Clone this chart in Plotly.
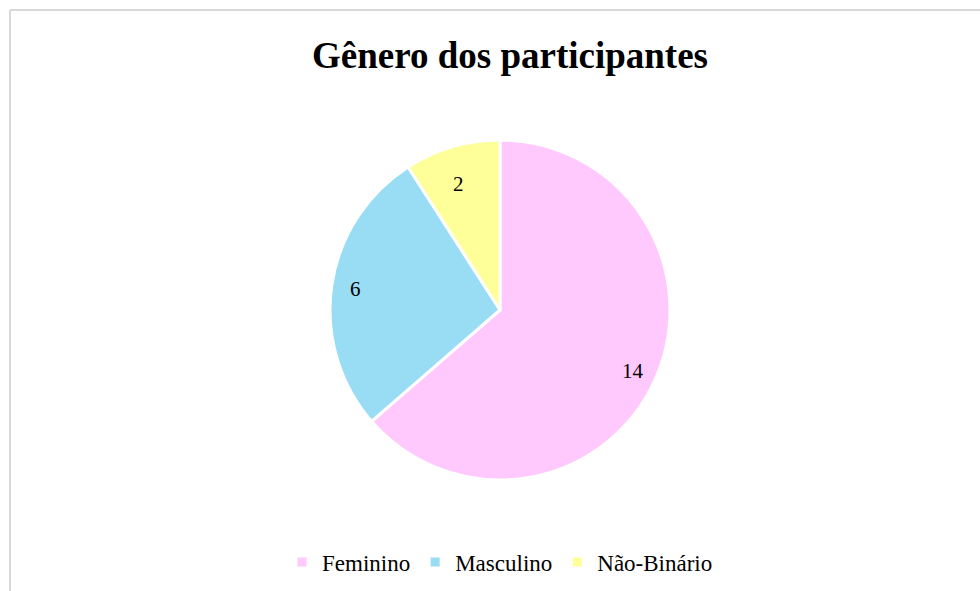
import math

import plotly.graph_objects as go

CATEGORIAS = ["Feminino", "Masculino", "Não-Binário"]
VALORES = [14, 6, 2]
CORES = ["#ffc9fd", "#99ddf5", "#ffff99"]

FONTE = "Liberation Serif, Times New Roman, serif"

W, H = 980, 591
# posição do pizza em pixels
CX, CY, RAIO = 500, 310, 170
RAIO_TEXTO = 0.86


def px_x(p):
    return p / W


def px_y(p):
    return 1 - p / H


fig = go.Figure(
    go.Pie(
        labels=CATEGORIAS,
        values=VALORES,
        sort=False,
        direction="clockwise",
        rotation=0,
        marker=dict(colors=CORES, line=dict(color="#ffffff", width=3)),
        textinfo="none",
        hoverinfo="label+value+percent",
        domain=dict(
            x=[px_x(CX - RAIO), px_x(CX + RAIO)],
            y=[px_y(CY + RAIO), px_y(CY - RAIO)],
        ),
    )
)

# rótulos de valor, posicionados a partir dos ângulos das fatias
total = sum(VALORES)
acumulado = 0
for v in VALORES:
    meio = (acumulado + v / 2) / total * 2 * math.pi
    acumulado += v
    fig.add_annotation(
        x=px_x(CX + RAIO * RAIO_TEXTO * math.sin(meio)),
        y=px_y(CY - RAIO * RAIO_TEXTO * math.cos(meio)),
        xref="paper",
        yref="paper",
        text=str(v),
        showarrow=False,
        font=dict(family=FONTE, size=21, color="#000000"),
    )

fig.update_layout(
    width=W,
    height=H,
    paper_bgcolor="#ffffff",
    plot_bgcolor="#ffffff",
    margin=dict(l=0, r=0, t=0, b=0),
    font=dict(family=FONTE, color="#000000"),
    title=dict(
        text="<b>Gênero dos participantes</b>",
        x=510 / W,
        xref="container",
        xanchor="center",
        y=1 - 55 / H,
        yanchor="middle",
        font=dict(family=FONTE, size=37, color="#000000"),
    ),
    legend=dict(
        orientation="h",
        x=px_x(500),
        xanchor="center",
        y=px_y(562),
        yanchor="middle",
        font=dict(family=FONTE, size=23, color="#000000"),
        itemwidth=30,
        traceorder="normal",
    ),
    shapes=[
        dict(type="line", xref="paper", yref="paper",
             x0=px_x(10), x1=px_x(985), y0=px_y(10), y1=px_y(10),
             line=dict(color="#d9d9d9", width=2)),
        dict(type="line", xref="paper", yref="paper",
             x0=px_x(10), x1=px_x(10), y0=px_y(10), y1=px_y(595),
             line=dict(color="#d9d9d9", width=2)),
    ],
)

fig.write_html(
    "out.html",
    config={"displayModeBar": False},
    post_script="document.body.style.margin='0';",
)
